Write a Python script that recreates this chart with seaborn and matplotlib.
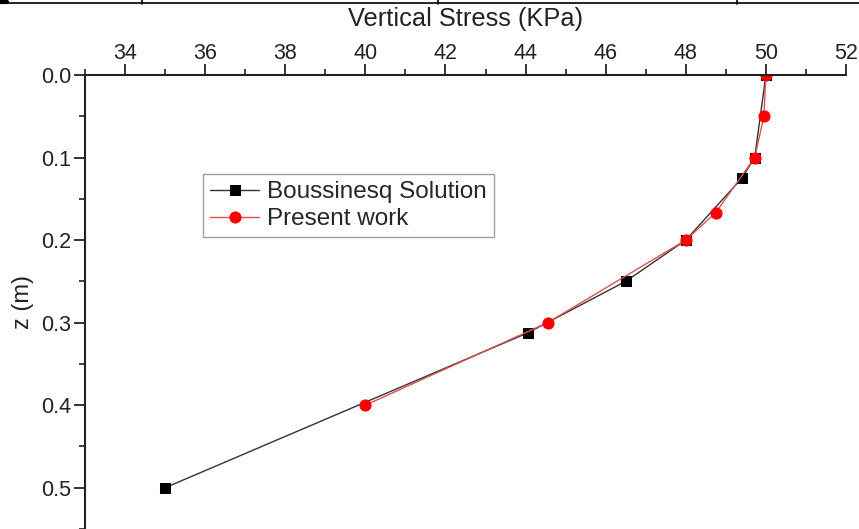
import matplotlib
matplotlib.use("Agg")
import matplotlib.pyplot as plt
from matplotlib.lines import Line2D
from matplotlib.ticker import MultipleLocator
import seaborn as sns
import pandas as pd

# Data
bous_stress = [50.0, 49.72, 49.4, 48.0, 46.5, 44.05, 35.0]
bous_z = [0.0, 0.1, 0.125, 0.2, 0.25, 0.3125, 0.5]
pres_stress = [50.0, 49.95, 49.72, 48.75, 48.0, 44.55, 40.0]
pres_z = [0.0, 0.05, 0.1, 0.1667, 0.2, 0.3, 0.4]
series_names = ["Boussinesq Solution", "Present work"]
x_ticks = [34, 36, 38, 40, 42, 44, 46, 48, 50, 52]
y_ticks = [0.0, 0.1, 0.2, 0.3, 0.4, 0.5]

sns.set_style("white")
plt.rcParams["font.family"] = ["Liberation Sans", "DejaVu Sans"]

W, H = 859, 529
fig = plt.figure(figsize=(W / 100, H / 100), dpi=100)
ax = fig.add_axes([85 / W, 0.0, (846 - 85) / W, (529 - 75) / H])

df_b = pd.DataFrame({"stress": bous_stress, "z": bous_z})
df_p = pd.DataFrame({"stress": pres_stress, "z": pres_z})

sns.lineplot(data=df_b, x="stress", y="z", sort=False, estimator=None, ax=ax,
             color="#333333", lw=1.0, marker="s", markersize=7,
             markerfacecolor="black", markeredgecolor="black",
             label=series_names[0])
sns.lineplot(data=df_p, x="stress", y="z", sort=False, estimator=None, ax=ax,
             color="#e05050", lw=1.0, marker="o", markersize=8,
             markerfacecolor="#ff0000", markeredgecolor="#ff0000",
             label=series_names[1])

ax.set_xlim(33, 52)
ax.set_ylim(0.55, 0.0)
ax.xaxis.tick_top()
ax.xaxis.set_label_position("top")
ax.set_xticks(x_ticks)
ax.set_yticks(y_ticks)
ax.set_yticklabels([f"{v:.1f}" for v in y_ticks])
ax.xaxis.set_minor_locator(MultipleLocator(1))
ax.yaxis.set_minor_locator(MultipleLocator(0.05))

tc = "#222222"
ax.tick_params(axis="x", which="major", direction="out", length=8, width=1.3,
               labelsize=15.5, colors=tc, top=True, bottom=False, pad=0)
ax.tick_params(axis="x", which="minor", direction="out", length=4, width=1.2,
               top=True, bottom=False, colors=tc)
ax.tick_params(axis="y", which="major", direction="out", length=8, width=1.3,
               labelsize=15.5, colors=tc, left=True, pad=2)
ax.tick_params(axis="y", which="minor", direction="out", length=4, width=1.2,
               left=True, colors=tc)

for s in ["bottom", "right"]:
    ax.spines[s].set_visible(False)
for s in ["top", "left"]:
    ax.spines[s].set_visible(True)
    ax.spines[s].set_linewidth(1.5)
    ax.spines[s].set_color(tc)

ax.set_xlabel("Vertical Stress (KPa)", fontsize=18.3, color=tc, labelpad=12)
ax.set_ylabel("z (m)", fontsize=17, color=tc, labelpad=5)

leg = ax.legend(loc="upper left", bbox_to_anchor=(0.155, 0.782), fontsize=17.5,
                frameon=True, fancybox=False, edgecolor="#888888",
                handlelength=2.0, handletextpad=0.35, borderpad=0.3,
                labelspacing=0.2, borderaxespad=0)
leg.get_frame().set_linewidth(1.0)

# table border remnants at the top of the image
def fl(x0, y0, x1, y1, lw=1.2):
    fig.add_artist(Line2D([x0 / W, x1 / W], [1 - y0 / H, 1 - y1 / H],
                          color="black", lw=lw, transform=fig.transFigure))

fl(0, 3, W, 3, 1.2)
fl(0, 1.5, 7, 1.5, 3)
for xv in [142, 438, 737]:
    fl(xv, 0, xv, 3.5, 1.2)

fig.savefig("out.png", dpi=100)
